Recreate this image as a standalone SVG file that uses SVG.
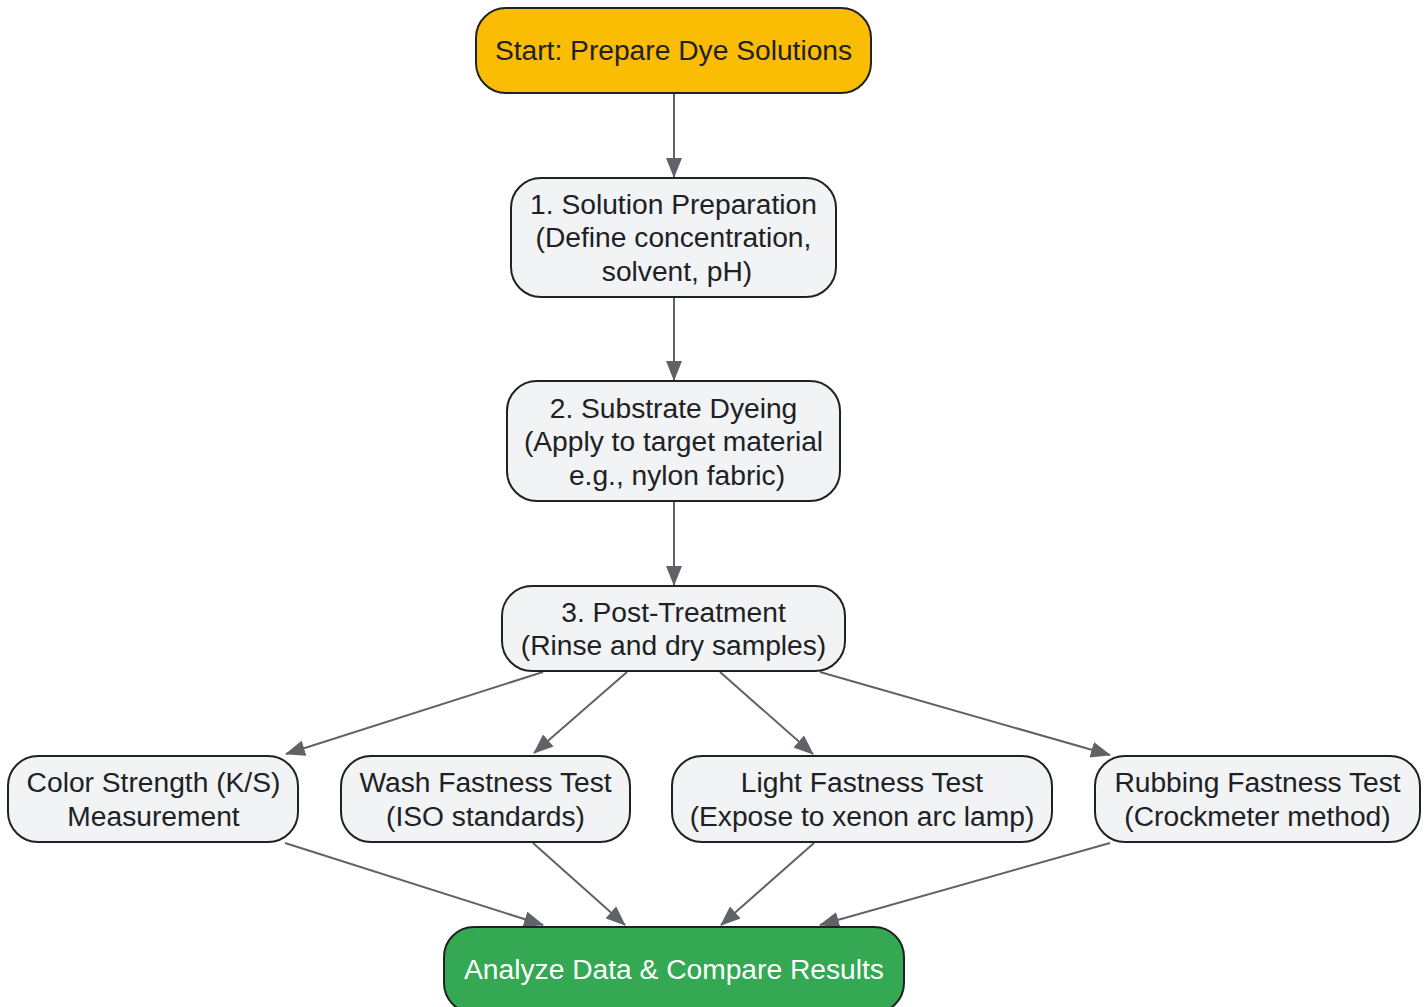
<svg xmlns="http://www.w3.org/2000/svg" width="1428" height="1007" viewBox="0 0 1428 1007">
<defs>
<style>
.node rect{fill:#f1f3f4;stroke:#202124;stroke-width:2}
.node text{font-family:"Liberation Sans",Arial,sans-serif;font-size:28.2px;fill:#202124;text-anchor:middle}
#start rect{fill:#fbbc04}
#analyze rect{fill:#34a853}
#analyze text{fill:#ffffff}
.edges line{stroke:#5f6368;stroke-width:2;fill:none;marker-end:url(#arrow)}
</style>
<marker id="arrow" markerUnits="userSpaceOnUse" markerWidth="20" markerHeight="16" viewBox="0 0 20 16" refX="19" refY="8" orient="auto">
<path d="M0,0 L20,8 L0,16 z" fill="#5f6368"/>
</marker>
</defs>
<rect width="1428" height="1007" fill="#ffffff"/>
<g class="edges">
<line x1="674" y1="94" x2="674" y2="177"/>
<line x1="674" y1="298" x2="674" y2="380"/>
<line x1="674" y1="502" x2="674" y2="585"/>
<line x1="543" y1="672" x2="286" y2="754"/>
<line x1="627" y1="672" x2="534" y2="753"/>
<line x1="720" y1="672" x2="813" y2="754"/>
<line x1="820" y1="672" x2="1110" y2="755"/>
<line x1="285" y1="843" x2="543" y2="925"/>
<line x1="533" y1="843" x2="625" y2="925"/>
<line x1="814" y1="843" x2="721" y2="925"/>
<line x1="1110" y1="843" x2="820" y2="925"/>
</g>
<g id="start" class="node">
<rect x="476" y="8" width="395" height="85" rx="30"/>
<text x="673.5" y="60">Start: Prepare Dye Solutions</text>
</g>
<g id="step1" class="node">
<rect x="511" y="178" width="325" height="119" rx="30"/>
<text x="673.5" y="214">1. Solution Preparation</text>
<text x="673.5" y="247">(Define concentration,</text>
<text x="677" y="281">solvent, pH)</text>
</g>
<g id="step2" class="node">
<rect x="507" y="381" width="333" height="120" rx="30"/>
<text x="673.5" y="418">2. Substrate Dyeing</text>
<text x="673.5" y="451">(Apply to target material</text>
<text x="677" y="485">e.g., nylon fabric)</text>
</g>
<g id="step3" class="node">
<rect x="502" y="586" width="343" height="85" rx="30"/>
<text x="673.5" y="622">3. Post-Treatment</text>
<text x="673.5" y="655">(Rinse and dry samples)</text>
</g>
<g id="colorStrength" class="node">
<rect x="8" y="756" width="290" height="86" rx="30"/>
<text x="153.5" y="792">Color Strength (K/S)</text>
<text x="153.5" y="826">Measurement</text>
</g>
<g id="washFastness" class="node">
<rect x="341" y="756" width="289" height="86" rx="30"/>
<text x="485.5" y="792">Wash Fastness Test</text>
<text x="485.5" y="826">(ISO standards)</text>
</g>
<g id="lightFastness" class="node">
<rect x="672" y="756" width="380" height="86" rx="30"/>
<text x="862" y="792">Light Fastness Test</text>
<text x="862" y="826">(Expose to xenon arc lamp)</text>
</g>
<g id="rubbingFastness" class="node">
<rect x="1095" y="756" width="325" height="86" rx="30"/>
<text x="1257.5" y="792">Rubbing Fastness Test</text>
<text x="1257.5" y="826">(Crockmeter method)</text>
</g>
<g id="analyze" class="node">
<rect x="444" y="927" width="460" height="86" rx="30"/>
<text x="674" y="979">Analyze Data &amp; Compare Results</text>
</g>
</svg>
